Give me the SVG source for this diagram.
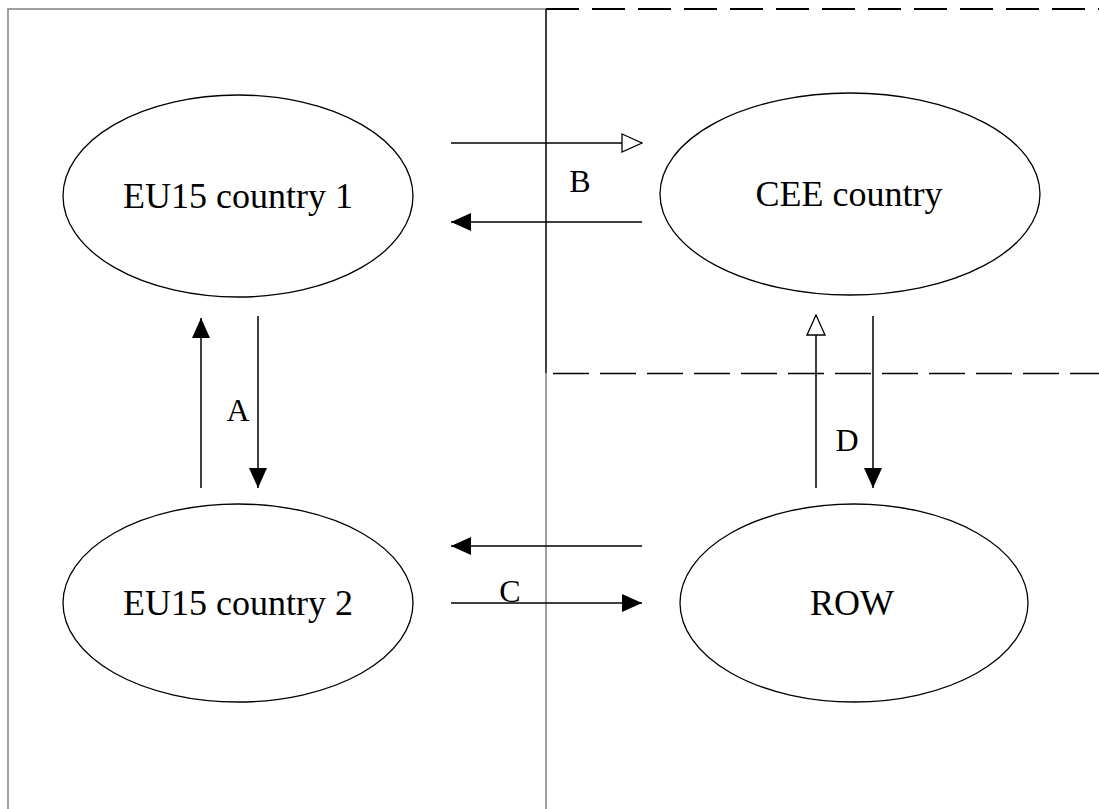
<svg xmlns="http://www.w3.org/2000/svg" width="1099" height="809" viewBox="0 0 1099 809">
<style>
.node{fill:#fff;stroke:#000;stroke-width:1.3}
.lbl{font-family:"Liberation Serif","Times New Roman",serif;font-size:36px;fill:#000;text-anchor:middle}
.tag{font-family:"Liberation Serif","Times New Roman",serif;font-size:32px;fill:#000;text-anchor:middle}
.conn{stroke:#000;stroke-width:1.5;fill:none}
.frame{stroke:#808080;stroke-width:1.5;fill:none}
</style>
<defs>
<marker id="filled" viewBox="0 0 20 18" refX="20" refY="9" markerWidth="20" markerHeight="18" markerUnits="userSpaceOnUse" orient="auto">
<path d="M0,0 L20,9 L0,18 Z" fill="#000"/>
</marker>
<marker id="open" viewBox="0 0 22 20" refX="21" refY="10" markerWidth="22" markerHeight="20" markerUnits="userSpaceOnUse" orient="auto">
<path d="M1,1 L21,10 L1,19 Z" fill="#fff" stroke="#000" stroke-width="1.3"/>
</marker>
</defs>
<rect width="1099" height="809" fill="#fff"/>
<g id="frames">
<path class="frame" d="M8,809 V9 H546"/>
<line x1="546" y1="9" x2="546" y2="373" stroke="#000" stroke-width="1.5"/>
<line class="frame" x1="546" y1="373" x2="546" y2="809"/>
<line x1="546" y1="9" x2="1099" y2="9" stroke="#000" stroke-width="2" stroke-dasharray="33,13"/>
<line x1="553" y1="373.5" x2="1099" y2="373.5" stroke="#000" stroke-width="1.3" stroke-dasharray="36,11"/>
</g>
<g id="node-eu1">
<ellipse class="node" cx="238" cy="196" rx="175" ry="101"/>
<text class="lbl" x="238" y="208">EU15 country 1</text>
</g>
<g id="node-cee">
<ellipse class="node" cx="850" cy="194" rx="190" ry="101"/>
<text class="lbl" x="849" y="206">CEE country</text>
</g>
<g id="node-eu2">
<ellipse class="node" cx="238" cy="603" rx="175" ry="99"/>
<text class="lbl" x="238" y="615">EU15 country 2</text>
</g>
<g id="node-row">
<ellipse class="node" cx="854" cy="603" rx="174" ry="99"/>
<text class="lbl" x="852" y="615">ROW</text>
</g>
<g id="connectors">
<line class="conn" x1="451" y1="143" x2="642" y2="143" marker-end="url(#open)"/>
<line class="conn" x1="642" y1="222" x2="451" y2="222" marker-end="url(#filled)"/>
<line class="conn" x1="201" y1="488" x2="201" y2="318" marker-end="url(#filled)"/>
<line class="conn" x1="258" y1="316" x2="258" y2="488" marker-end="url(#filled)"/>
<line class="conn" x1="816" y1="488" x2="816" y2="315" marker-end="url(#open)"/>
<line class="conn" x1="873" y1="316" x2="873" y2="488" marker-end="url(#filled)"/>
<line class="conn" x1="642" y1="546" x2="451" y2="546" marker-end="url(#filled)"/>
<line class="conn" x1="451" y1="603" x2="642" y2="603" marker-end="url(#filled)"/>
<text class="tag" x="580" y="192">B</text>
<text class="tag" x="238" y="421">A</text>
<text class="tag" x="847" y="451">D</text>
<text class="tag" x="510" y="602">C</text>
</g>
</svg>
